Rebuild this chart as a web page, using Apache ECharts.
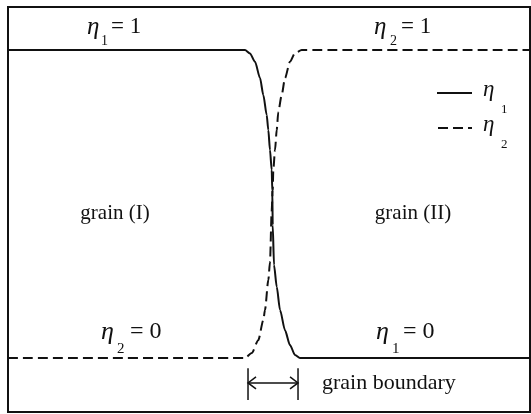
<!DOCTYPE html>
<html>
<head>
<meta charset="utf-8">
<script src="https://cdn.jsdelivr.net/npm/echarts@6/dist/echarts.min.js"></script>
<style>
  html, body { margin: 0; padding: 0; background: #fff; }
  #chart { width: 531px; height: 414px; }
</style>
</head>
<body>
<div id="chart"></div>
<script>
// position across the bicrystal (0 = left edge, 100 = right edge)
const eta1X = [0, 45.40, 46.36, 47.32, 48.28, 48.91, 49.56, 49.87, 50.19, 50.52, 50.63, 50.71, 50.96, 51.48, 52.11, 53.07, 54.02, 54.98, 55.94, 100];
const eta1Y = [1, 1, 0.989, 0.962, 0.909, 0.854, 0.789, 0.740, 0.675, 0.610, 0.545, 0.432, 0.302, 0.231, 0.156, 0.09, 0.042, 0.010, 0, 0];

const eta2X = [0, 45.40, 46.69, 47.95, 48.91, 49.23, 49.87, 50.19, 50.52, 50.71, 50.82, 51.15, 51.48, 51.78, 52.43, 53.07, 54.02, 54.98, 56.26, 100];
const eta2Y = [0, 0, 0.016, 0.058, 0.123, 0.156, 0.253, 0.312, 0.48, 0.545, 0.610, 0.675, 0.740, 0.799, 0.854, 0.909, 0.962, 0.990, 1, 1];

// grain boundary width marker
const gbEdges = [45.98, 55.56];
const gbArrowLevel = -0.081;
const gbBarRange = [-0.033, -0.136];

const zip = (xs, ys) => xs.map((x, i) => [x, ys[i]]);

const serif = '"Liberation Serif", "DejaVu Serif", serif';
const ink = '#111';

function txt(x, y, text, size, italic, align) {
  return {
    type: 'text', x: x, y: y, silent: true,
    style: {
      text: text, fill: ink, fontFamily: serif, fontSize: size,
      fontStyle: italic ? 'italic' : 'normal',
      textAlign: align || 'left', textVerticalAlign: 'middle'
    }
  };
}

// eta with subscript, then the rest of the label
function etaLabel(x, y, sub, rest, size, subDx, restDx, subDy) {
  return [
    txt(x, y, 'η', Math.round(size * 1.1), true),
    txt(x + subDx, y + subDy, sub, Math.round(size * 0.62), false),
    txt(x + restDx, y, rest, size, false)
  ];
}

const chart = echarts.init(document.getElementById('chart'));

chart.setOption({
  animation: false,
  backgroundColor: '#fff',
  grid: {
    left: 8, right: 1, top: 7, bottom: 2,
    show: true, borderColor: ink, borderWidth: 2
  },
  xAxis: {
    type: 'value', min: 0, max: 100,
    axisLine: { show: false }, axisTick: { show: false },
    axisLabel: { show: false }, splitLine: { show: false }
  },
  yAxis: {
    type: 'value', min: -0.1753, max: 1.1396,
    axisLine: { show: false }, axisTick: { show: false },
    axisLabel: { show: false }, splitLine: { show: false }
  },
  series: [
    {
      name: 'η1', type: 'line', data: zip(eta1X, eta1Y),
      showSymbol: false, smooth: 0.25, smoothMonotone: 'x',
      lineStyle: { color: ink, width: 2 }
    },
    {
      name: 'η2', type: 'line', data: zip(eta2X, eta2Y),
      showSymbol: false, smooth: 0.25, smoothMonotone: 'x',
      lineStyle: { color: ink, width: 2, type: [10, 5] }
    },
    {
      // |<-->| grain boundary marker
      type: 'custom', silent: true,
      data: [[gbEdges[0], gbEdges[1]]],
      renderItem: function (params, api) {
        const l = api.coord([api.value(0), gbArrowLevel]);
        const r = api.coord([api.value(1), gbArrowLevel]);
        const t = api.coord([0, gbBarRange[0]])[1];
        const b = api.coord([0, gbBarRange[1]])[1];
        const st = { stroke: ink, lineWidth: 1.5, fill: null };
        return {
          type: 'group',
          children: [
            { type: 'line', shape: { x1: l[0], y1: t, x2: l[0], y2: b }, style: st },
            { type: 'line', shape: { x1: r[0], y1: t, x2: r[0], y2: b }, style: st },
            { type: 'line', shape: { x1: l[0], y1: l[1], x2: r[0], y2: r[1] }, style: st },
            { type: 'polyline', shape: { points: [[l[0] + 8, l[1] - 6], [l[0], l[1]], [l[0] + 8, l[1] + 6]] }, style: st },
            { type: 'polyline', shape: { points: [[r[0] - 8, r[1] - 6], [r[0], r[1]], [r[0] - 8, r[1] + 6]] }, style: st }
          ]
        };
      }
    }
  ],
  graphic: [].concat(
    etaLabel(87, 27, '1', '= 1', 23, 14, 24, 14),
    etaLabel(374, 27, '2', '= 1', 23, 16, 27, 14),
    etaLabel(101, 332, '2', '= 0', 24, 16, 29, 17),
    etaLabel(376, 332, '1', '= 0', 24, 16, 27, 17),
    [
      txt(115, 213, 'grain (I)', 21, false, 'center'),
      txt(413, 213, 'grain (II)', 21, false, 'center'),
      txt(322, 383, 'grain boundary', 22, false, 'left'),
      { type: 'line', silent: true, shape: { x1: 437, y1: 93, x2: 472, y2: 93 }, style: { stroke: ink, lineWidth: 2 } },
      { type: 'line', silent: true, shape: { x1: 438, y1: 128, x2: 472, y2: 128 }, style: { stroke: ink, lineWidth: 2, lineDash: [10, 5] } }
    ],
    etaLabel(483, 90, '1', '', 21, 18, 0, 20),
    etaLabel(483, 125, '2', '', 21, 18, 0, 20)
  )
});
</script>
</body>
</html>
